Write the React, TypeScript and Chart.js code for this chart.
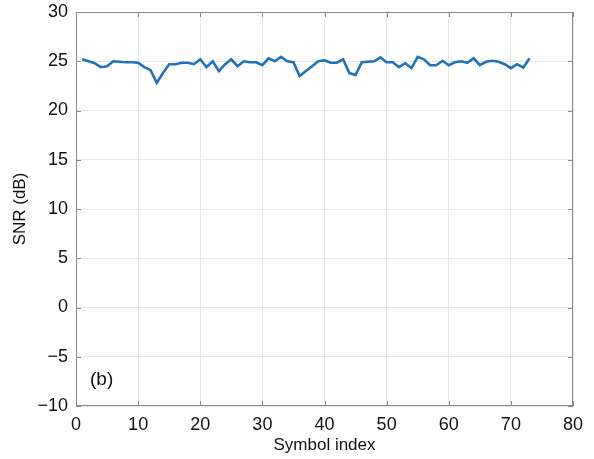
import React, { useEffect, useRef } from "react";
import { Chart, registerables } from "chart.js";

Chart.register(...registerables);

const symbolIndex: number[] = Array.from({ length: 73 }, (_, i) => i + 1);
const snrValues: number[] = [
  25.2, 25.0, 24.8, 24.4, 24.5, 25.0, 24.95, 24.9, 24.9, 24.85,
  24.4, 24.1, 22.8, 23.8, 24.7, 24.7, 24.85, 24.85, 24.7, 25.2,
  24.4, 25.0, 24.0, 24.7, 25.2, 24.5, 25.0, 24.9, 24.9, 24.6,
  25.3, 25.0, 25.45, 25.0, 24.9, 23.5, 24.0, 24.5, 25.0, 25.1,
  24.85, 24.85, 25.2, 23.8, 23.6, 24.9, 24.95, 25.0, 25.4, 24.9,
  24.9, 24.4, 24.8, 24.3, 25.45, 25.2, 24.6, 24.6, 25.05, 24.6,
  24.9, 25.0, 24.85, 25.3, 24.6, 24.95, 25.05, 24.95, 24.7, 24.3,
  24.7, 24.35, 25.3,
];
const xTicks: number[] = [0, 10, 20, 30, 40, 50, 60, 70, 80];
const yTicks: number[] = [-10, -5, 0, 5, 10, 15, 20, 25, 30];
const panelLabel = "(b)";
const xTitle = "Symbol index";
const yTitle = "SNR (dB)";

const FONT = "'Liberation Sans', Arial, sans-serif";

const framePlugin = {
  id: "frame",
  afterDraw(chart: any) {
    const { ctx, chartArea } = chart;
    const { left, right, top, bottom } = chartArea;
    const xs = chart.scales.x;
    const ys = chart.scales.y;
    ctx.save();
    ctx.strokeStyle = "#8a8a8a";
    ctx.lineWidth = 1;
    ctx.strokeRect(left + 0.5, top + 0.5, right - left - 1, bottom - top - 1);
    ctx.beginPath();
    const tl = 5;
    xTicks.forEach((v) => {
      const px = Math.round(xs.getPixelForValue(v)) + 0.5;
      ctx.moveTo(px, bottom);
      ctx.lineTo(px, bottom - tl);
      ctx.moveTo(px, top);
      ctx.lineTo(px, top + tl);
    });
    yTicks.forEach((v) => {
      const py = Math.round(ys.getPixelForValue(v)) + 0.5;
      ctx.moveTo(left, py);
      ctx.lineTo(left + tl, py);
      ctx.moveTo(right, py);
      ctx.lineTo(right - tl, py);
    });
    ctx.stroke();
    ctx.fillStyle = "#111";
    ctx.font = `19px ${FONT}`;
    ctx.textAlign = "left";
    ctx.textBaseline = "middle";
    ctx.fillText(panelLabel, left + 14, ys.getPixelForValue(-7.3));
    ctx.restore();
  },
};

export default function App() {
  const ref = useRef<HTMLCanvasElement | null>(null);
  useEffect(() => {
    if (!ref.current) return;
    const chart = new Chart(ref.current, {
      type: "line",
      data: {
        labels: symbolIndex,
        datasets: [
          {
            data: symbolIndex.map((x, i) => ({ x, y: snrValues[i] })),
            borderColor: "#1f72bd",
            borderWidth: 2.6,
            pointRadius: 0,
            tension: 0,
            fill: false,
          },
        ],
      },
      options: {
        animation: false,
        responsive: false,
        maintainAspectRatio: false,
        layout: { padding: { left: 0, right: 21, top: 12, bottom: 0 } },
        plugins: { legend: { display: false }, tooltip: { enabled: false } },
        scales: {
          x: {
            type: "linear",
            min: 0,
            max: 80,
            afterBuildTicks: (s: any) => {
              s.ticks = xTicks.map((v) => ({ value: v }));
            },
            afterFit: (s: any) => {
              s.height = 53;
              s.paddingLeft = 0;
              s.paddingRight = 0;
            },
            grid: { color: "#e8e8e8", drawTicks: false },
            border: { display: false },
            ticks: {
              color: "#111",
              font: { family: FONT, size: 18 },
              padding: 8,
              maxRotation: 0,
            },
            title: {
              display: true,
              text: xTitle,
              color: "#111",
              font: { family: FONT, size: 17 },
              padding: { top: 0, bottom: 3 },
            },
          },
          y: {
            type: "linear",
            min: -10,
            max: 30,
            afterBuildTicks: (s: any) => {
              s.ticks = yTicks.map((v) => ({ value: v }));
            },
            afterFit: (s: any) => {
              s.width = 76;
              s.paddingTop = 0;
              s.paddingBottom = 0;
            },
            grid: { color: "#e8e8e8", drawTicks: false },
            border: { display: false },
            ticks: {
              color: "#111",
              font: { family: FONT, size: 18 },
              padding: 8,
              callback: (v: any) => String(v).replace("-", "\u2212"),
            },
            title: {
              display: true,
              text: yTitle,
              color: "#111",
              font: { family: FONT, size: 17 },
              padding: { top: 10, bottom: 0 },
            },
          },
        },
      },
      plugins: [framePlugin],
    });
    return () => chart.destroy();
  }, []);
  return (
    <div style={{ position: "fixed", left: 0, top: 0, width: 594, height: 459, background: "#fff" }}>
      <canvas ref={ref} width={594} height={459} style={{ width: 594, height: 459, display: "block" }} />
    </div>
  );
}
